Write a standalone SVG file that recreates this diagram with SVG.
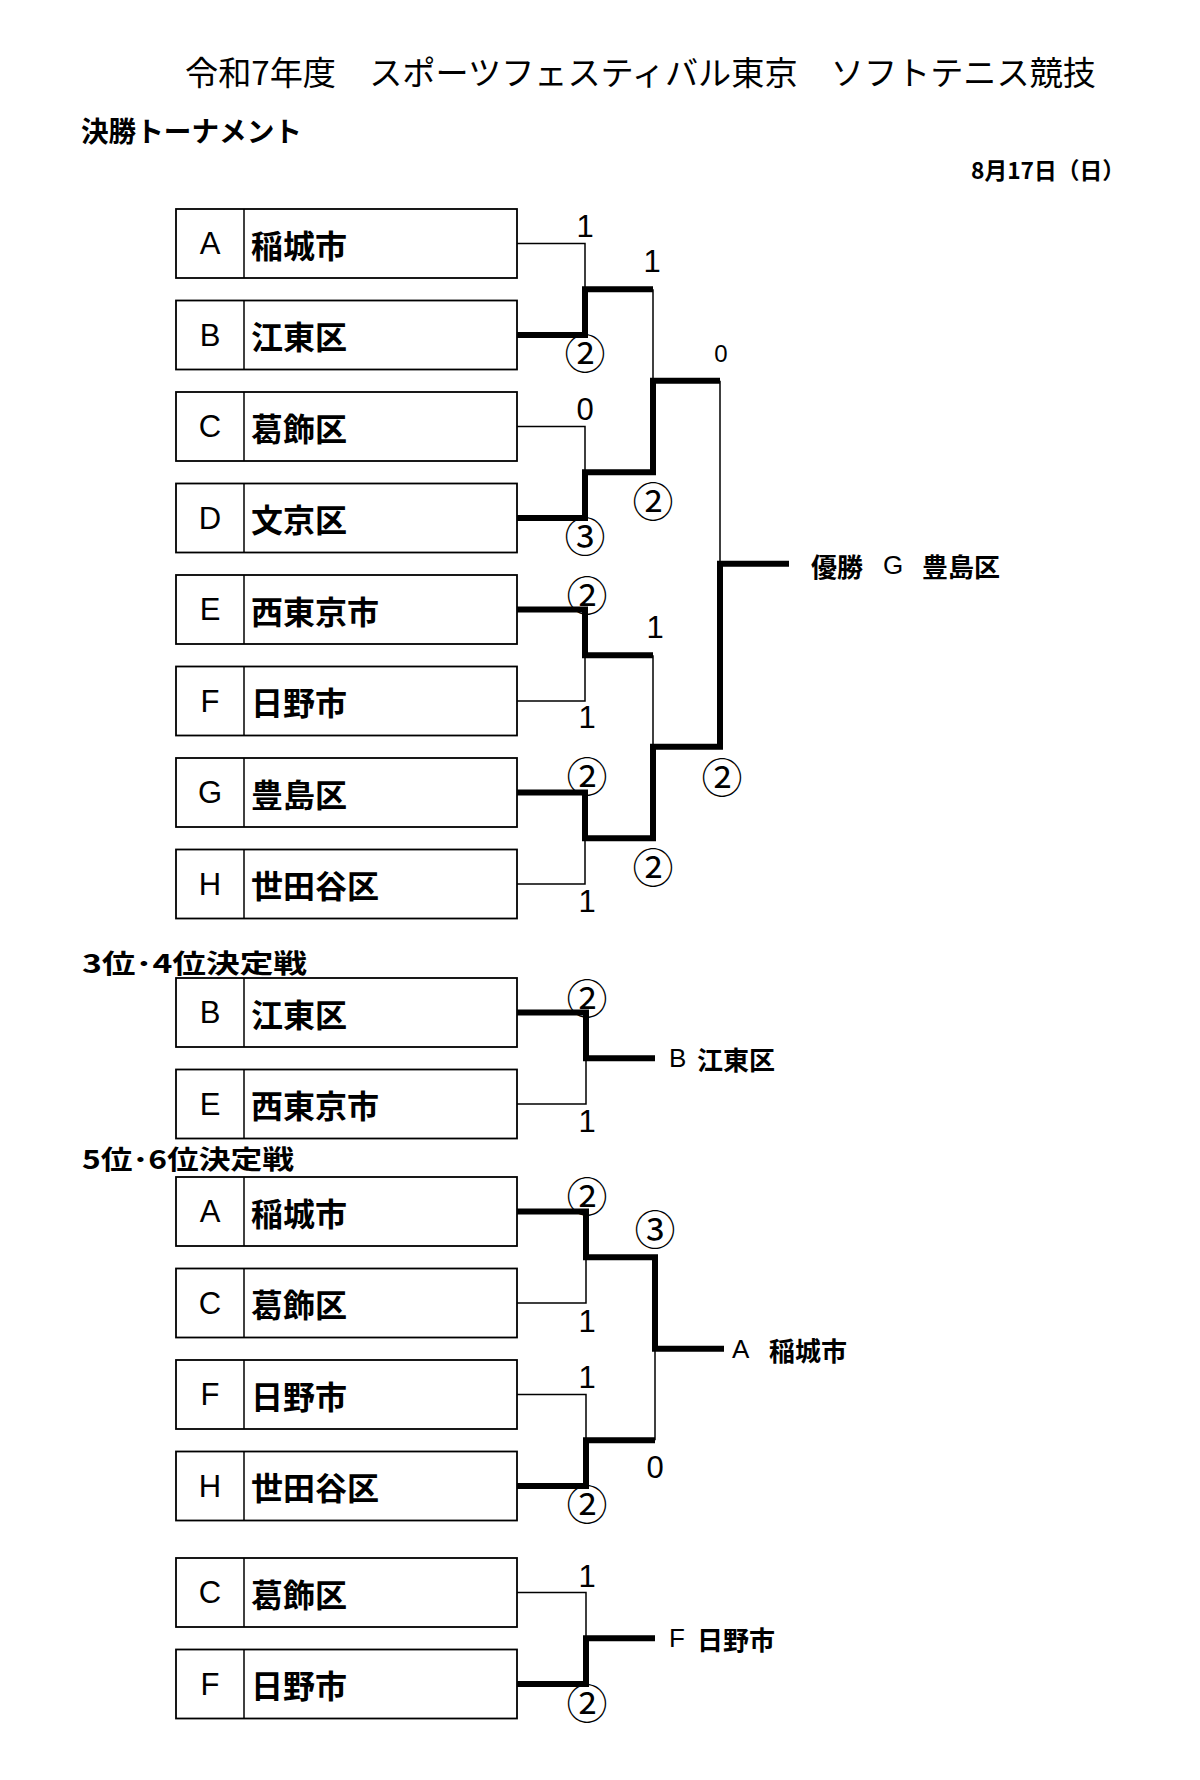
<svg xmlns="http://www.w3.org/2000/svg" width="1200" height="1780" viewBox="0 0 1200 1780">
<style>
.bg{fill:#fff}
.box{fill:#fff;stroke:#000;stroke-width:1.8}
.dv{stroke:#000;stroke-width:1.5}
.thin{fill:none;stroke:#000;stroke-width:1.5}
.thick{fill:none;stroke:#000;stroke-width:6;stroke-linejoin:miter}
.let{font-family:"Liberation Sans","Noto Sans CJK JP",sans-serif;font-size:31px;text-anchor:middle;dominant-baseline:central;fill:#000}
.name{font-family:"Noto Sans CJK JP",sans-serif;font-weight:bold;font-size:32px;dominant-baseline:central;fill:#000}
.num{font-family:"Liberation Sans",sans-serif;font-size:31px;text-anchor:middle;fill:#000}
.cir{font-family:"Noto Sans CJK JP",sans-serif;font-size:41px;text-anchor:middle;dominant-baseline:central;fill:#000}
.head{font-family:"Noto Sans CJK JP",sans-serif;font-weight:bold;font-size:26px;dominant-baseline:central;fill:#000}
.win{font-family:"Noto Sans CJK JP",sans-serif;font-weight:bold;font-size:26px;dominant-baseline:central;fill:#000}
.title{font-family:"Noto Sans CJK JP",sans-serif;font-size:33px;dominant-baseline:central;fill:#000}
</style>
<rect class="bg" x="0" y="0" width="1200" height="1780"/>

<g id="titles">
<text class="title" x="185" y="71" textLength="911" lengthAdjust="spacingAndGlyphs">令和7年度　スポーツフェスティバル東京　ソフトテニス競技</text>
<text class="head" x="81" y="130" style="font-size:28px" textLength="221" lengthAdjust="spacingAndGlyphs">決勝トーナメント</text>
<text class="head" x="971" y="169" style="font-size:23px" textLength="154" lengthAdjust="spacingAndGlyphs">8月17日（日）</text>
<text class="head" x="82" y="961" textLength="225" lengthAdjust="spacingAndGlyphs">3位･4位決定戦</text>
<text class="head" x="82" y="1157" textLength="212" lengthAdjust="spacingAndGlyphs">5位･6位決定戦</text>
</g>

<g id="main-A"><rect class="box" x="176" y="209" width="341" height="69"/><line class="dv" x1="244" y1="209" x2="244" y2="278"/><text class="let" x="210" y="243.5">A</text><text class="name" x="251" y="243.5">稲城市</text></g>
<g id="main-B"><rect class="box" x="176" y="300.5" width="341" height="69"/><line class="dv" x1="244" y1="300.5" x2="244" y2="369.5"/><text class="let" x="210" y="335">B</text><text class="name" x="251" y="335">江東区</text></g>
<g id="main-C"><rect class="box" x="176" y="392" width="341" height="69"/><line class="dv" x1="244" y1="392" x2="244" y2="461"/><text class="let" x="210" y="426.5">C</text><text class="name" x="251" y="426.5">葛飾区</text></g>
<g id="main-D"><rect class="box" x="176" y="483.5" width="341" height="69"/><line class="dv" x1="244" y1="483.5" x2="244" y2="552.5"/><text class="let" x="210" y="518">D</text><text class="name" x="251" y="518">文京区</text></g>
<g id="main-E"><rect class="box" x="176" y="575" width="341" height="69"/><line class="dv" x1="244" y1="575" x2="244" y2="644"/><text class="let" x="210" y="609.5">E</text><text class="name" x="251" y="609.5">西東京市</text></g>
<g id="main-F"><rect class="box" x="176" y="666.5" width="341" height="69"/><line class="dv" x1="244" y1="666.5" x2="244" y2="735.5"/><text class="let" x="210" y="701">F</text><text class="name" x="251" y="701">日野市</text></g>
<g id="main-G"><rect class="box" x="176" y="758" width="341" height="69"/><line class="dv" x1="244" y1="758" x2="244" y2="827"/><text class="let" x="210" y="792.5">G</text><text class="name" x="251" y="792.5">豊島区</text></g>
<g id="main-H"><rect class="box" x="176" y="849.5" width="341" height="69"/><line class="dv" x1="244" y1="849.5" x2="244" y2="918.5"/><text class="let" x="210" y="884">H</text><text class="name" x="251" y="884">世田谷区</text></g>

<g id="p34-B"><rect class="box" x="176" y="978" width="341" height="69"/><line class="dv" x1="244" y1="978" x2="244" y2="1047"/><text class="let" x="210" y="1012.5">B</text><text class="name" x="251" y="1012.5">江東区</text></g>
<g id="p34-E"><rect class="box" x="176" y="1069.5" width="341" height="69"/><line class="dv" x1="244" y1="1069.5" x2="244" y2="1138.5"/><text class="let" x="210" y="1104">E</text><text class="name" x="251" y="1104">西東京市</text></g>

<g id="p56-A"><rect class="box" x="176" y="1177" width="341" height="69"/><line class="dv" x1="244" y1="1177" x2="244" y2="1246"/><text class="let" x="210" y="1211.5">A</text><text class="name" x="251" y="1211.5">稲城市</text></g>
<g id="p56-C"><rect class="box" x="176" y="1268.5" width="341" height="69"/><line class="dv" x1="244" y1="1268.5" x2="244" y2="1337.5"/><text class="let" x="210" y="1303">C</text><text class="name" x="251" y="1303">葛飾区</text></g>
<g id="p56-F"><rect class="box" x="176" y="1360" width="341" height="69"/><line class="dv" x1="244" y1="1360" x2="244" y2="1429"/><text class="let" x="210" y="1394.5">F</text><text class="name" x="251" y="1394.5">日野市</text></g>
<g id="p56-H"><rect class="box" x="176" y="1451.5" width="341" height="69"/><line class="dv" x1="244" y1="1451.5" x2="244" y2="1520.5"/><text class="let" x="210" y="1486">H</text><text class="name" x="251" y="1486">世田谷区</text></g>

<g id="p78-C"><rect class="box" x="176" y="1558" width="341" height="69"/><line class="dv" x1="244" y1="1558" x2="244" y2="1627"/><text class="let" x="210" y="1592.5">C</text><text class="name" x="251" y="1592.5">葛飾区</text></g>
<g id="p78-F"><rect class="box" x="176" y="1649.5" width="341" height="69"/><line class="dv" x1="244" y1="1649.5" x2="244" y2="1718.5"/><text class="let" x="210" y="1684">F</text><text class="name" x="251" y="1684">日野市</text></g>

<g id="connectors">
<path class="thin" d="M517,243.5 H585 V289.25"/>
<path class="thin" d="M517,426.5 H585 V472.25"/>
<path class="thin" d="M517,701 H585 V655.25"/>
<path class="thin" d="M517,884 H585 V838.25"/>
<path class="thin" d="M653,289.25 V380.75"/>
<path class="thin" d="M653,655.25 V746.75"/>
<path class="thin" d="M720,380.75 V563.75"/>
<path class="thick" d="M517,335 H585 V289.25 H653"/>
<path class="thick" d="M517,518 H585 V472.25 H653 V380.75 H720"/>
<path class="thick" d="M517,609.5 H585 V655.25 H653"/>
<path class="thick" d="M517,792.5 H585 V838.25 H653 V746.75 H720 V563.75 H789"/>

<path class="thin" d="M517,1104 H586 V1058.25"/>
<path class="thick" d="M517,1012.5 H586 V1058.25 H655"/>

<path class="thin" d="M517,1303 H586 V1257.25"/>
<path class="thin" d="M517,1394.5 H586 V1440.25"/>
<path class="thin" d="M655,1440.25 V1348.75"/>
<path class="thick" d="M517,1211.5 H586 V1257.25 H655 V1348.75 H724"/>
<path class="thick" d="M517,1486 H586 V1440.25 H655"/>

<path class="thin" d="M517,1592.5 H586 V1638.25"/>
<path class="thick" d="M517,1684 H586 V1638.25 H655"/>
</g>

<g id="scores">
<text class="num" x="585" y="237">1</text>
<text class="num" x="652" y="272">1</text>
<text class="cir" x="585" y="351">②</text>
<text class="num" x="721" y="362" style="font-size:24px">0</text>
<text class="num" x="585" y="420">0</text>
<text class="cir" x="653" y="499">②</text>
<text class="cir" x="585" y="534">③</text>
<text class="cir" x="587" y="593">②</text>
<text class="num" x="655" y="638">1</text>
<text class="num" x="587" y="728">1</text>
<text class="cir" x="587" y="774">②</text>
<text class="cir" x="722" y="775">②</text>
<text class="cir" x="653" y="865">②</text>
<text class="num" x="587" y="912">1</text>

<text class="cir" x="587" y="996">②</text>
<text class="num" x="587" y="1132">1</text>

<text class="cir" x="587" y="1194">②</text>
<text class="cir" x="655" y="1227">③</text>
<text class="num" x="587" y="1332">1</text>
<text class="num" x="587" y="1388">1</text>
<text class="num" x="655" y="1478">0</text>
<text class="cir" x="587" y="1502">②</text>

<text class="num" x="587" y="1587">1</text>
<text class="cir" x="587" y="1701">②</text>
</g>

<g id="winners">
<text class="win" x="811" y="565"><tspan x="811">優勝</tspan><tspan x="883" font-family="Liberation Sans" font-weight="normal">G</tspan><tspan x="922">豊島区</tspan></text>
<text class="win" x="669" y="1058"><tspan x="669" font-family="Liberation Sans" font-weight="normal">B</tspan><tspan x="697">江東区</tspan></text>
<text class="win" x="732" y="1349"><tspan x="732" font-family="Liberation Sans" font-weight="normal">A</tspan><tspan x="769">稲城市</tspan></text>
<text class="win" x="669" y="1638"><tspan x="669" font-family="Liberation Sans" font-weight="normal">F</tspan><tspan x="697">日野市</tspan></text>
</g>
</svg>
